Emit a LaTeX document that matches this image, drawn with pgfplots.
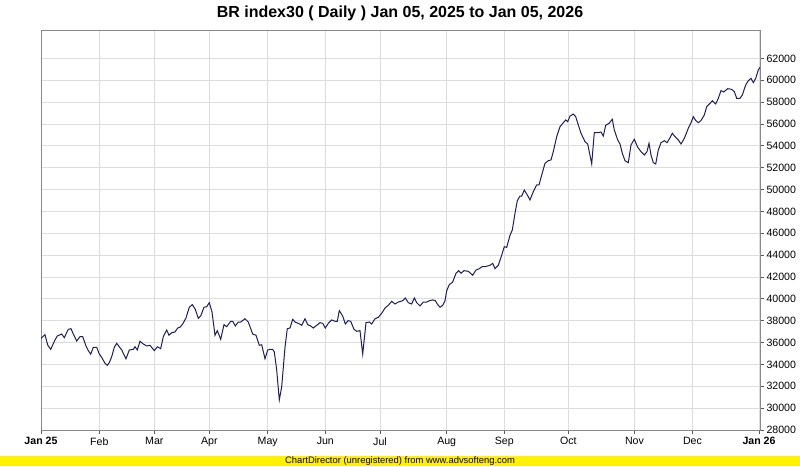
\documentclass[border=0pt]{standalone}
\usepackage{pgfplots}
\pgfplotsset{compat=1.18}
\usepackage{fontspec}
\setmainfont{Liberation Sans}
\definecolor{lineblue}{RGB}{30,30,90}
\definecolor{gridgray}{RGB}{221,221,221}
\definecolor{axisgray}{RGB}{136,136,136}
\begin{document}
\begin{tikzpicture}[x=1pt,y=1pt]
\path[use as bounding box] (0,0) rectangle (800,466);
\fill[yellow] (0,0) rectangle (800,10);
\node[anchor=base,inner sep=0pt,font=\fontsize{9.4}{10}\selectfont] at (400,2.3) {ChartDirector (unregistered) from www.advsofteng.com};
\node[anchor=base,inner sep=0pt,font=\fontsize{16}{18}\selectfont\bfseries] at (400,448) {BR index30 ( Daily ) Jan 05, 2025 to Jan 05, 2026};
\begin{axis}[
  at={(41pt,36pt)}, anchor=south west,
  scale only axis, width=719pt, height=400pt,
  xmin=41, xmax=760, ymin=28000, ymax=64600,
  xtick={41,99.3,154.3,209.3,267.7,325.3,380,446.7,504.3,568.3,634.5,692.5,759},
  xticklabels={\textbf{Jan 25},Feb,Mar,Apr,May,Jun,Jul,Aug,Sep,Oct,Nov,Dec,\textbf{Jan 26}},
  ytick={28000,30000,...,62000},
  xtick pos=bottom, ytick pos=right, yticklabel pos=right,
  tick align=outside, major tick length=4pt,
  /pgf/number format/assume math mode=true,
  /pgf/number format/1000 sep={},
  /pgf/number format/fixed,
  scaled y ticks=false,
  ticklabel style={font=\fontsize{10.6}{12}\selectfont},
  yticklabel style={xshift=-1pt},
  grid=major,
  major grid style={draw=gridgray, line width=0.8pt},
  axis line style={draw=axisgray, line width=0.9pt},
  major tick style={draw=black!65, line width=0.8pt},
  clip=true,
]
\addplot[lineblue, line width=1pt] coordinates {
(41,36390) (45,36720) (47.7,35780) (50.7,35380) (55,36240) (57.3,36600) (61.7,36780) (64.3,36450)
(68.3,37210) (71,37270) (73.3,36780) (76.7,36140) (80,36540) (82.7,36540) (86,35690) (88.3,35260)
(90.7,34930) (93.3,35570) (96.7,35570) (99.3,34950) (101.7,34650) (105,34100) (107.3,33920) (109.3,34160)
(111.7,34710) (114.3,35570) (116.7,35930) (121.7,35320) (126,34520) (129.3,35320) (133.3,35380) (135,35620)
(137.3,35320) (140,36120) (143.3,35870) (146.7,35690) (150,35750) (154.3,35260) (157.3,35620) (160.7,35440)
(163.3,36540) (166.7,37150) (169,36670) (171.7,36900) (175,36970) (177.7,37330) (180,37400) (182.7,37700)
(186,38250) (189.3,39230) (192.3,39470) (195.3,39040) (198.3,38220) (200.7,38430) (204,39230) (206.7,39280)
(209.3,39650) (212,38800) (215,36670) (217.3,37090) (220.7,36300) (224,37640) (226.7,37450) (230.7,37950)
(232.7,37950) (235.3,37520) (238.3,37880) (240.7,37880) (245,38180) (248.3,37880) (252.7,36780) (256,36670)
(259.3,35750) (261.7,35800) (265,34520) (267.7,35320) (270,35380) (272.7,35380) (274.3,35140) (276.7,33490)
(279.3,30750) (281.7,31960) (285,35570) (287.3,37270) (290,37330) (292.7,38130) (295,37880) (298.3,37760)
(301.7,37580) (305,38180) (307.7,37640) (310.7,37520) (313.3,37330) (316.7,37580) (320,37820) (322.7,37760)
(325.3,37330) (328.3,37760) (331.7,38070) (335,37950) (337.3,37950) (339.3,38920) (342.7,38430) (345.3,37700)
(348,38000) (350.7,37950) (354,37210) (356.7,37030) (360,37090) (362.7,34950) (366,37820) (369.3,37880)
(371.7,37700) (375,38180) (378.3,38310) (381.7,38680) (385,39160) (388.3,39410) (391.7,39780) (395,39530)
(398.3,39710) (402.7,39830) (405.3,40080) (408.3,39650) (411.7,39530) (414.3,40080) (416.7,39650) (420,39350)
(423.3,39710) (426.7,39710) (429.3,39830) (432.7,39900) (435.3,39830) (437.3,39530) (440,39230) (442.7,39410)
(445,39830) (446.7,40750) (449.3,41300) (452.7,41540) (456,42340) (458.7,42580) (461,42340) (464,42580)
(468.3,42520) (472.7,42160) (476,42640) (479.3,42760) (482,42940) (485,42940) (487.3,43000) (490,43070)
(492.7,43250) (495,42760) (498.3,43070) (501,43800) (504.3,44770) (506.7,44710) (510,45820) (512.3,46300)
(515,47830) (517.3,48980) (520,49410) (521.7,49410) (524.3,49960) (527.3,49500) (530,49050) (533.3,49810)
(536.7,50420) (539,50420) (541.7,51330) (545,52400) (548.3,52640) (551,52710) (553.3,53470) (556.7,54840)
(560,55750) (563.3,56120) (565.7,56370) (567.7,56210) (570,56730) (573.3,56910) (575.7,56670) (578.3,55910)
(581,55150) (585,54380) (587.7,54170) (591.7,52340) (594.3,55200) (598.3,55200) (601,55270) (603.3,54900)
(605.7,55880) (609,56060) (612.3,56430) (614.3,55450) (617.7,54540) (620,54170) (622.3,53320) (625,52640)
(628.3,52460) (631,54080) (634.3,54600) (637.7,53870) (641,53470) (644.3,53160) (647,53470) (649,54230)
(651,53160) (653.3,52460) (655.7,52340) (658.3,53620) (661,54290) (664.3,54470) (667,54290) (669.7,54690)
(672.3,55150) (675,54840) (678.3,54540) (681,54170) (684.3,54690) (688.3,55610) (691,56120) (693.3,56670)
(695.7,56320) (698.3,56120) (701,56320) (704.3,56820) (706.7,57580) (710,57880) (712.3,58130) (715.7,57830)
(718.3,58350) (721,59050) (723.7,58930) (727.7,59230) (731.7,59170) (734.3,58960) (736.7,58350) (740,58350)
(742.3,58650) (745.7,59570) (748.3,59960) (751,60180) (753.3,59780) (755.7,60180) (758.3,60940) (760,61180)
};
\end{axis}
\end{tikzpicture}
\end{document}
